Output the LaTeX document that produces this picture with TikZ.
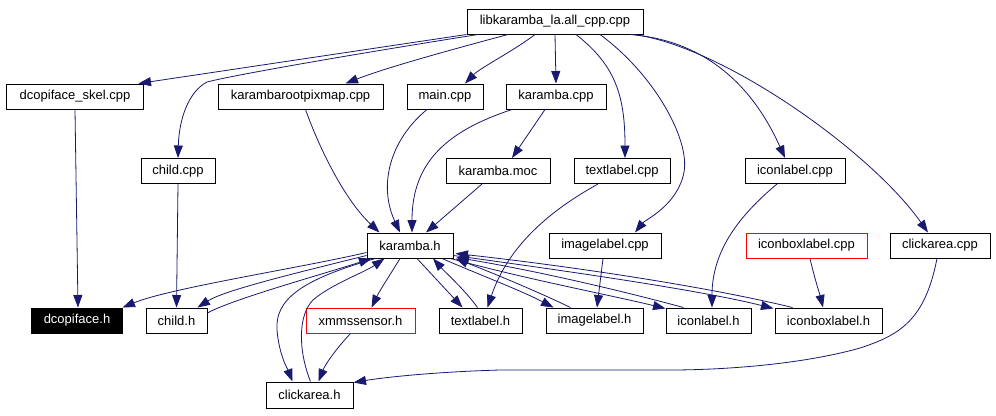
\documentclass[tikz,border=0pt]{standalone}
\usepackage{fontspec}
\setmainfont{Liberation Sans}
\usetikzlibrary{arrows.meta,calc}
\definecolor{edgeblue}{RGB}{25,25,112}
\begin{document}
\begin{tikzpicture}[x=1bp,y=-1bp,
  box/.style={draw=black,line width=1bp,inner sep=0pt,minimum height=25bp,font=\fontsize{13bp}{15bp}\selectfont},
  redbox/.style={box,draw=red},
  blackbox/.style={box,fill=black,text=white},
  edge/.style={draw=edgeblue,line width=0.8bp,-{Triangle[length=12.5bp,width=9bp]}}
]
\useasboundingbox[fill=white] (0,0) rectangle (996,415);
% nodes
\node[box,minimum width=176bp] (lib) at (555,21.5) {libkaramba\_la.all\_cpp.cpp};
\node[box,minimum width=136bp] (skel) at (75,96.5) {dcopiface\_skel.cpp};
\node[box,minimum width=165bp] (krp) at (300.5,96.5) {karambarootpixmap.cpp};
\node[box,minimum width=76bp] (mainc) at (445,96.5) {main.cpp};
\node[box,minimum width=100bp] (kc) at (556,96.5) {karamba.cpp};
\node[box,minimum width=74bp] (childc) at (178,171) {child.cpp};
\node[box,minimum width=104bp] (moc) at (498,171) {karamba.moc};
\node[box,minimum width=96bp] (tlc) at (622,171) {textlabel.cpp};
\node[box,minimum width=100bp] (ilc) at (795,171) {iconlabel.cpp};
\node[box,minimum width=86bp] (kh) at (410,245.5) {karamba.h};
\node[box,minimum width=112bp] (imc) at (605,245.5) {imagelabel.cpp};
\node[redbox,minimum width=121bp] (ibc) at (806.5,245.5) {iconboxlabel.cpp};
\node[box,minimum width=100bp] (cac) at (940,245.5) {clickarea.cpp};
\node[blackbox,minimum width=90bp] (dh) at (77,320.5) {dcopiface.h};
\node[box,minimum width=61bp] (chh) at (176.5,320.5) {child.h};
\node[redbox,minimum width=109bp] (xh) at (360.5,320.5) {xmmssensor.h};
\node[box,minimum width=83bp] (tlh) at (480.5,320.5) {textlabel.h};
\node[box,minimum width=97bp] (imh) at (594.5,320.5) {imagelabel.h};
\node[box,minimum width=85bp] (ilh) at (708.5,320.5) {iconlabel.h};
\node[box,minimum width=107bp] (ibh) at (828.5,320.5) {iconboxlabel.h};
\node[box,minimum width=87bp,minimum height=26bp] (cah) at (309.5,395) {clickarea.h};
% edges from lib
\draw[edge] (lib.south west) -- ($(skel.north east)+(-5,0)$);
\draw[edge] ($(lib.south)+(-77,0)$) .. controls (330,58) and (230,76) .. (207,82) .. controls (188,92) and (179,120) .. (childc.north);
\draw[edge] ($(lib.south)+(-47,0)$) .. controls (450,50) and (385,68) .. ($(krp.north)+(45,0)$);
\draw[edge] ($(lib.south)+(-20,0)$) .. controls (515,50) and (480,68) .. ($(mainc.north)+(20,0)$);
\draw[edge] (lib.south) -- (kc.north);
\draw[edge] ($(lib.south)+(21,0)$) .. controls (615,65) and (625,95) .. ($(tlc.north)+(3,0)$);
\draw[edge] ($(lib.south)+(45,0)$) .. controls (655,75) and (690,140) .. (684,172) .. controls (678,205) and (645,220) .. ($(imc.north)+(30,0)$);
\draw[edge] ($(lib.south)+(75,0)$) .. controls (700,40) and (750,80) .. ($(ilc.north)+(-10,0)$);
\draw[edge] ($(lib.south)+(78,0)$) .. controls (720,45) and (870,150) .. ($(cac.north)+(-12,0)$);
% second level
\draw[edge] (skel.south) -- ($(dh.north)+(1,0)$);
\draw[edge] ($(krp.south)+(5,0)$) .. controls (320,150) and (345,200) .. ($(kh.north west)+(13,0)$);
\draw[edge] ($(mainc.south)+(-18,0)$) .. controls (390,140) and (378,185) .. ($(kh.north)+(-10,0)$);
\draw[edge] ($(kc.south)+(-44,0)$) .. controls (450,130) and (412,160) .. ($(kh.north)+(2,0)$);
\draw[edge] ($(kc.south)+(-11,0)$) -- ($(moc.north)+(14,0)$);
\draw[edge] ($(moc.south)+(-16,0)$) -- ($(kh.north)+(16,0)$);
\draw[edge] (childc.south) -- (chh.north);
\draw[edge] ($(tlc.south)+(-24,0)$) .. controls (560,205) and (510,240) .. ($(tlh.north)+(7,0)$);
\draw[edge] ($(imc.south)+(-2,0)$) -- ($(imh.north)+(2.5,0)$);
\draw[edge] ($(ilc.south)+(-18,0)$) .. controls (740,215) and (712,250) .. ($(ilh.north)+(3.5,0)$);
\draw[edge] ($(ibc.south)+(3.5,0)$) .. controls (815,280) and (820,295) .. ($(ibh.north)+(-5.5,0)$);
\draw[edge] ($(cac.south)+(-3,0)$) .. controls (925,320) and (900,335) .. (860,348) .. controls (800,365) and (720,370) .. (670,370) -- (500,370) .. controls (430,372) and (380,378) .. ($(cah.north east)+(0,1)$);
\draw[edge] ($(xh.south)+(-10,0)$) .. controls (335,350) and (325,365) .. ($(cah.north)+(9,0)$);
% karamba.h edges
\draw[edge] ($(kh.south west)+(0,-6)$) .. controls (300,268) and (170,288) .. (dh.north east);
\draw[edge] ($(kh.south west)+(0,-3)$) .. controls (300,272) and (225,290) .. ($(chh.north east)+(-10,0)$);
\draw[edge] ($(chh.east)+(0,-7.5)$) .. controls (230,300) and (320,275) .. ($(kh.south west)+(5,0)$);
\draw[edge] ($(kh.south west)+(9,0)$) .. controls (300,280) and (275,300) .. (277,330) .. controls (279,355) and (288,370) .. ($(cah.north)+(-17,0)$);
\draw[edge] ($(cah.north)+(1,0)$) .. controls (298,350) and (298,315) .. (313,300) .. controls (330,285) and (365,272) .. ($(kh.south west)+(18,0)$);
\draw[edge] ($(kh.south)+(-10,0)$) .. controls (390,275) and (380,290) .. ($(xh.north)+(11,0)$);
\draw[edge] ($(kh.south)+(7,0)$) -- ($(tlh.north)+(-18,0)$);
\draw[edge] ($(tlh.north)+(-3,0)$) .. controls (465,290) and (445,272) .. ($(kh.south)+(23,0)$);
\draw[edge] ($(kh.south)+(32,0)$) .. controls (480,275) and (520,290) .. ($(imh.north)+(-41,0)$);
\draw[edge] ($(imh.north)+(-24,0)$) .. controls (530,288) and (480,268) .. ($(kh.south east)+(2,0)$);
\draw[edge] ($(kh.south east)+(-3,0)$) .. controls (530,280) and (610,295) .. ($(ilh.north west)+(0,1)$);
\draw[edge] ($(ilh.north)+(-25,0)$) .. controls (600,285) and (520,268) .. ($(kh.south east)+(3,-1)$);
\draw[edge] ($(kh.east)+(0,10)$) .. controls (560,270) and (700,290) .. ($(ibh.north west)+(-1,1)$);
\draw[edge] ($(ibh.north)+(-36,0)$) .. controls (700,285) and (560,265) .. ($(kh.east)+(2,8)$);
\end{tikzpicture}
\end{document}
